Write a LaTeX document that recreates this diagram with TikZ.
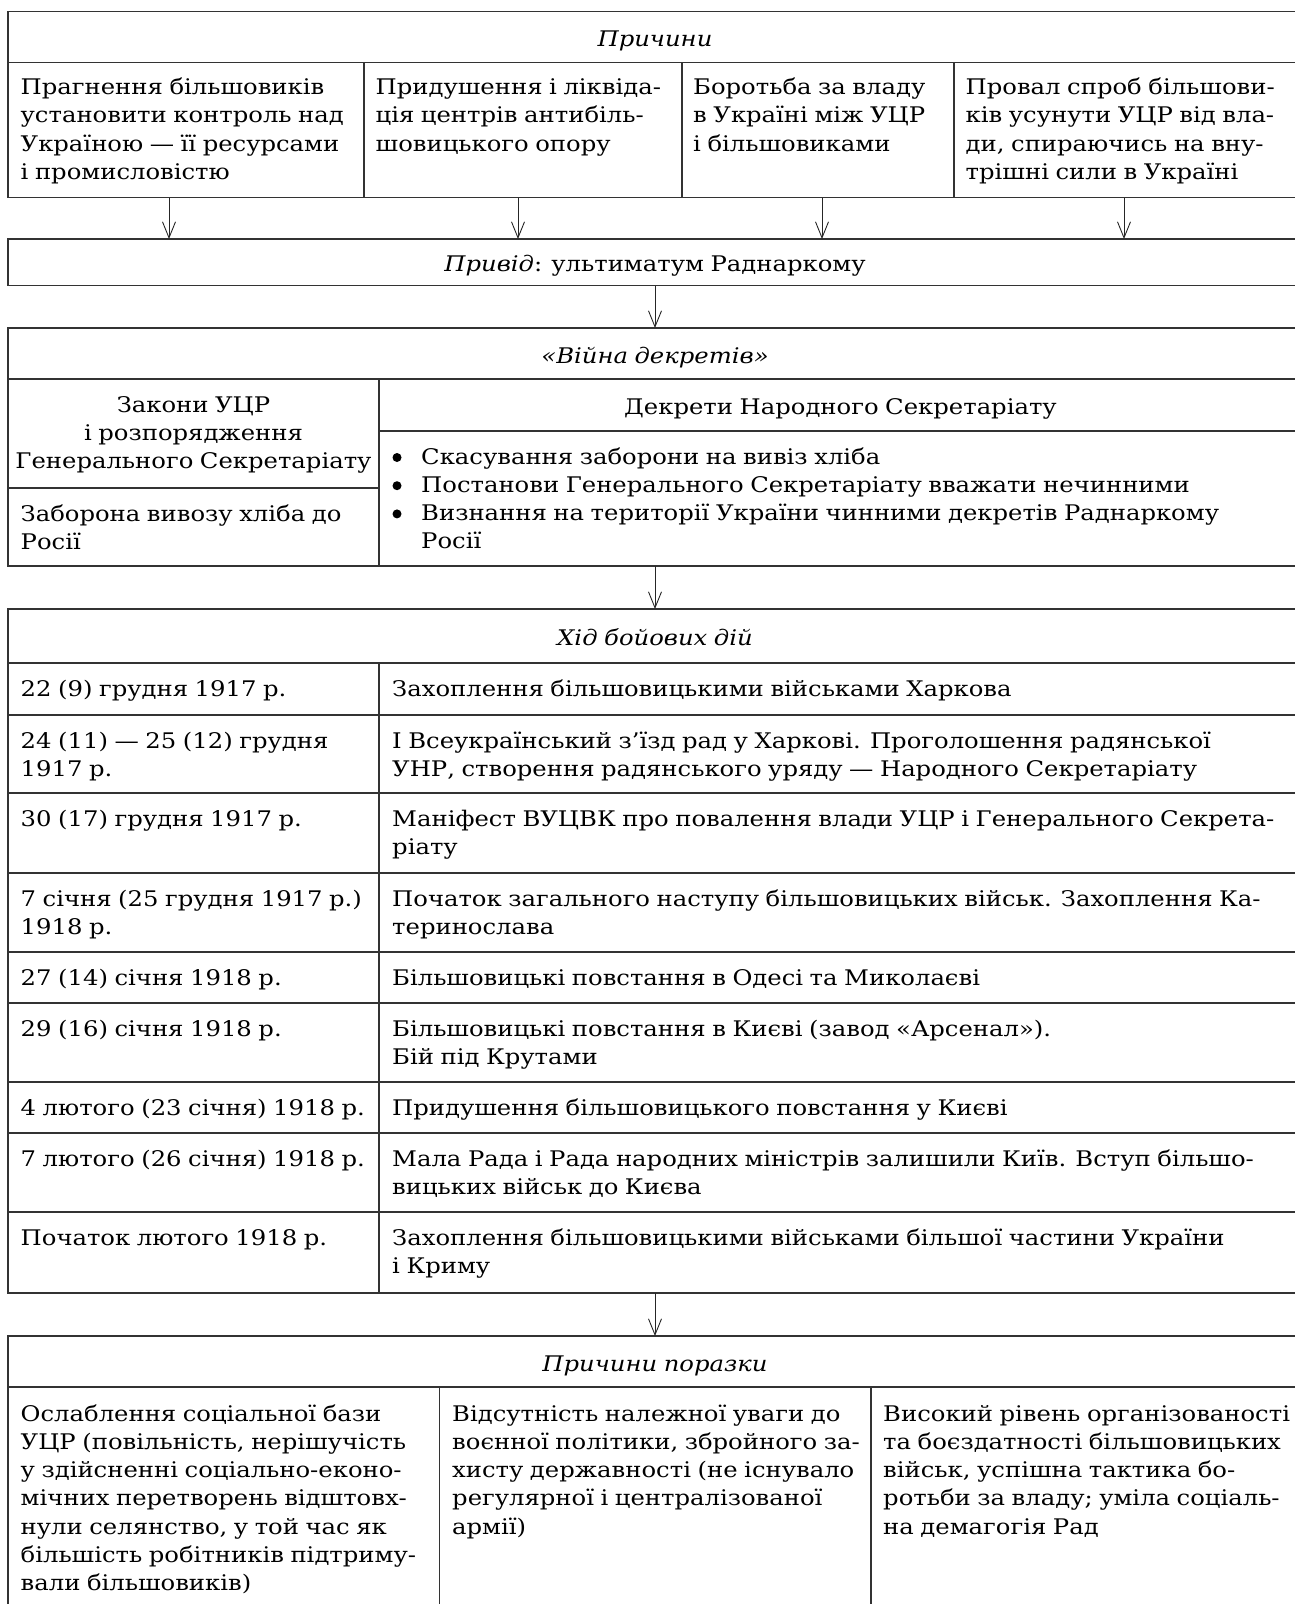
\documentclass[tikz,border=0pt]{standalone}
\usepackage{fontspec}
\setmainfont{DejaVu Serif}[FakeStretch=1.13,WordSpace=0.85]
\usetikzlibrary{arrows.meta}
\newcommand{\fs}{\fontsize{21.5pt}{28.2pt}\selectfont}
\begin{document}
\begin{tikzpicture}[x=1pt,y=-1pt,
  cell/.style={draw=black!80, line width=1.2pt, inner sep=0pt, outer sep=0pt, anchor=north west, text=black},
  hd/.style={cell, font=\fs\itshape, text height=19pt, text depth=0pt},
  txt/.style={anchor=north west, inner sep=0pt, align=left, font=\fs, text=black},
  arr/.style={draw=black!85, line width=0.9pt, -{Straight Barb[length=16pt,width=13pt,line width=0.9pt]}},
  bul/.style={circle, fill=black, inner sep=0pt, minimum size=9pt}]
\useasboundingbox (0,0) rectangle (1295,1604);
\clip (0,0) rectangle (1295,1604);
% ---------- Причини
\node[hd, minimum width=1294pt, minimum height=50.6pt] (h1) at (8,11.7) {Причини};
\node[cell, minimum width=356pt, minimum height=135.4pt] (c1) at (8,62.3) {};
\node[cell, minimum width=318pt, minimum height=135.4pt] (c2) at (364,62.3) {};
\node[cell, minimum width=272pt, minimum height=135.4pt] (c3) at (682,62.3) {};
\node[cell, minimum width=348pt, minimum height=135.4pt] (c4) at (954,62.3) {};
\node[txt] (t1) at (20.5,74.8) {\strut Прагнення більшовиків\\установити контроль над\\Україною — її ресурсами\\і промисловістю};
\node[txt] (t2) at (375.5,74.8) {\strut Придушення і ліквіда-\\ція центрів антибіль-\\шовицького опору};
\node[txt] (t3) at (693,74.8) {\strut Боротьба за владу\\в Україні між УЦР\\і більшовиками};
\node[txt] (t4) at (965.5,74.8) {\strut Провал спроб більшови-\\ків усунути УЦР від вла-\\ди, спираючись на вну-\\трішні сили в Україні};
% ---------- Привід
\node[cell, minimum width=1294pt, minimum height=46.7pt, font=\fs, text height=19pt, text depth=0pt] (pr) at (8,239) {\textit{Привід}: ультиматум Раднаркому};
\draw[arr] ([xshift=-17pt]c1.south) -- ([xshift=-17pt]c1.south |- pr.north);
\draw[arr] ([xshift=-5pt]c2.south) -- ([xshift=-5pt]c2.south |- pr.north);
\draw[arr] ([xshift=4pt]c3.south) -- ([xshift=4pt]c3.south |- pr.north);
\draw[arr] ([xshift=-4pt]c4.south) -- ([xshift=-4pt]c4.south |- pr.north);
% ---------- Війна декретів
\node[hd, minimum width=1294pt, minimum height=51pt] (vh) at (8,328) {«Війна декретів»};
\draw[arr] (pr.south) -- (vh.north);
\node[cell, minimum width=371pt, minimum height=109pt] (vl1) at (8,379) {};
\node[cell, minimum width=371pt, minimum height=78pt] (vl2) at (8,488) {};
\node[cell, minimum width=923pt, minimum height=52pt, font=\fs, text height=19pt, text depth=0pt] (vr1) at (379,379) {Декрети Народного Секретаріату};
\node[cell, minimum width=923pt, minimum height=135pt] (vr2) at (379,431) {};
\node[txt, anchor=north, align=center] (vt1) at (193.5,392.6) {\strut Закони УЦР\\і розпорядження\\Генерального Секретаріату};
\node[txt] (vt2) at (20.5,501.3) {\strut Заборона вивозу хліба до\\Росії};
\node[txt] (vt3) at (421,444.3) {\strut Скасування заборони на вивіз хліба\\Постанови Генерального Секретаріату вважати нечинними\\Визнання на території України чинними декретів Раднаркому\\Росії};
\node[bul] (b1) at (397,457.5) {};
\node[bul] (b2) at (397,485.7) {};
\node[bul] (b3) at (397,513.9) {};
% ---------- Хід бойових дій
\node[hd, minimum width=1294pt, minimum height=54pt] (kh) at (8,609) {Хід бойових дій};
\draw[arr] (vh.south |- vr2.south) -- (kh.north);
\node[cell, minimum width=371pt, minimum height=52pt] (kl1) at (8,663) {};
\node[cell, minimum width=923pt, minimum height=52pt] (kr1) at (379,663) {};
\node[cell, minimum width=371pt, minimum height=78pt] (kl2) at (8,715) {};
\node[cell, minimum width=923pt, minimum height=78pt] (kr2) at (379,715) {};
\node[cell, minimum width=371pt, minimum height=80pt] (kl3) at (8,793) {};
\node[cell, minimum width=923pt, minimum height=80pt] (kr3) at (379,793) {};
\node[cell, minimum width=371pt, minimum height=79pt] (kl4) at (8,873) {};
\node[cell, minimum width=923pt, minimum height=79pt] (kr4) at (379,873) {};
\node[cell, minimum width=371pt, minimum height=51pt] (kl5) at (8,952) {};
\node[cell, minimum width=923pt, minimum height=51pt] (kr5) at (379,952) {};
\node[cell, minimum width=371pt, minimum height=79pt] (kl6) at (8,1003) {};
\node[cell, minimum width=923pt, minimum height=79pt] (kr6) at (379,1003) {};
\node[cell, minimum width=371pt, minimum height=51pt] (kl7) at (8,1082) {};
\node[cell, minimum width=923pt, minimum height=51pt] (kr7) at (379,1082) {};
\node[cell, minimum width=371pt, minimum height=79pt] (kl8) at (8,1133) {};
\node[cell, minimum width=923pt, minimum height=79pt] (kr8) at (379,1133) {};
\node[cell, minimum width=371pt, minimum height=81pt] (kl9) at (8,1212) {};
\node[cell, minimum width=923pt, minimum height=81pt] (kr9) at (379,1212) {};
\node[txt] (klt1) at (20.5,676.3) {\strut 22 (9) грудня 1917 р.};
\node[txt] (krt1) at (392,676.3) {\strut Захоплення більшовицькими військами Харкова};
\node[txt] (klt2) at (20.5,728.3) {\strut 24 (11) — 25 (12) грудня\\1917 р.};
\node[txt] (krt2) at (392,728.3) {\strut І Всеукраїнський з’їзд рад у Харкові. Проголошення радянської\\УНР, створення радянського уряду — Народного Секретаріату};
\node[txt] (klt3) at (20.5,806.3) {\strut 30 (17) грудня 1917 р.};
\node[txt] (krt3) at (392,806.3) {\strut Маніфест ВУЦВК про повалення влади УЦР і Генерального Секрета-\\ріату};
\node[txt] (klt4) at (20.5,886.3) {\strut 7 січня (25 грудня 1917 р.)\\1918 р.};
\node[txt] (krt4) at (392,886.3) {\strut Початок загального наступу більшовицьких військ. Захоплення Ка-\\теринослава};
\node[txt] (klt5) at (20.5,965.3) {\strut 27 (14) січня 1918 р.};
\node[txt] (krt5) at (392,965.3) {\strut Більшовицькі повстання в Одесі та Миколаєві};
\node[txt] (klt6) at (20.5,1016.3) {\strut 29 (16) січня 1918 р.};
\node[txt] (krt6) at (392,1016.3) {\strut Більшовицькі повстання в Києві (завод «Арсенал»).\\Бій під Крутами};
\node[txt] (klt7) at (20.5,1095.3) {\strut 4 лютого (23 січня) 1918 р.};
\node[txt] (krt7) at (392,1095.3) {\strut Придушення більшовицького повстання у Києві};
\node[txt] (klt8) at (20.5,1146.3) {\strut 7 лютого (26 січня) 1918 р.};
\node[txt] (krt8) at (392,1146.3) {\strut Мала Рада і Рада народних міністрів залишили Київ. Вступ більшо-\\вицьких військ до Києва};
\node[txt] (klt9) at (20.5,1225.3) {\strut Початок лютого 1918 р.};
\node[txt] (krt9) at (392,1225.3) {\strut Захоплення більшовицькими військами більшої частини України\\і Криму};
% ---------- Причини поразки
\node[hd, minimum width=1294pt, minimum height=51pt] (fh) at (8,1336) {Причини поразки};
\draw[arr] (kh.south |- kr9.south) -- (fh.north);
\node[cell, minimum width=431.5pt, minimum height=240pt] (f1) at (8,1387) {};
\node[cell, minimum width=431.5pt, minimum height=240pt] (f2) at (439.5,1387) {};
\node[cell, minimum width=431pt, minimum height=240pt] (f3) at (871,1387) {};
\node[txt] (ft1) at (20.5,1401.3) {\strut Ослаблення соціальної бази\\УЦР (повільність, нерішучість\\у здійсненні соціально-еконо-\\мічних перетворень відштовх-\\нули селянство, у той час як\\більшість робітників підтриму-\\вали більшовиків)};
\node[txt] (ft2) at (452,1401.3) {\strut Відсутність належної уваги до\\воєнної політики, збройного за-\\хисту державності (не існувало\\регулярної і централізованої\\армії)};
\node[txt] (ft3) at (883,1401.3) {\strut Високий рівень організованості\\та боєздатності більшовицьких\\військ, успішна тактика бо-\\ротьби за владу; уміла соціаль-\\на демагогія Рад};
\end{tikzpicture}
\end{document}
